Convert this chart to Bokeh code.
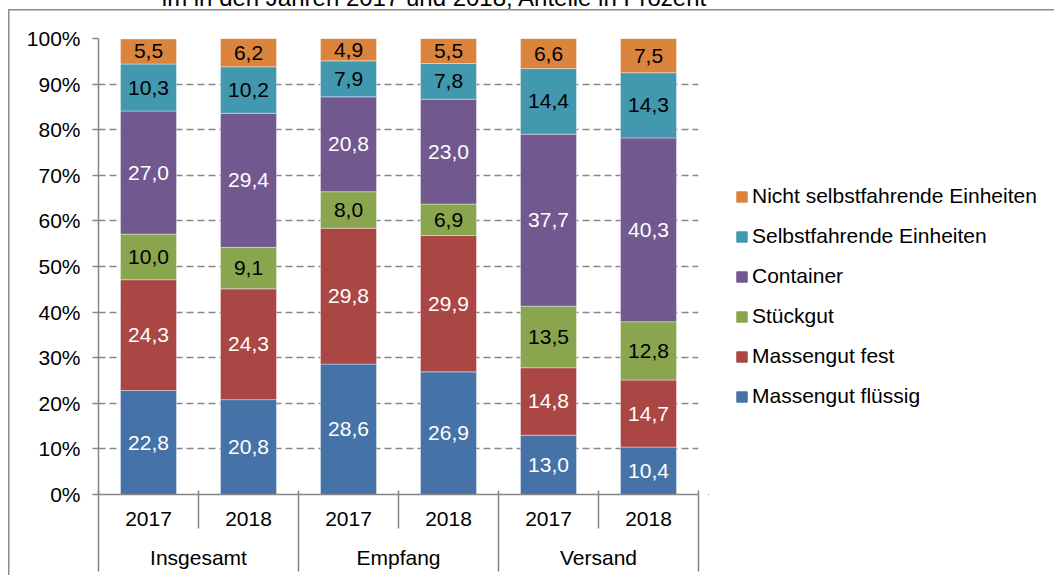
from bokeh.plotting import figure
from bokeh.layouts import column, row
from bokeh.models import (FactorRange, Range1d, LinearAxis, FixedTicker, SingleIntervalTicker,
                          PrintfTickFormatter, Legend, LegendItem, ColumnDataSource, Div)
from bokeh.core.properties import value
from bokeh.embed import file_html
from bokeh.resources import INLINE

# ---------------- data ----------------
title_text = "im in den Jahren 2017 und 2018, Anteile in Prozent"
groups = ["Insgesamt", "Empfang", "Versand"]
years = ["2017", "2018"]
series = ["Massengut flüssig", "Massengut fest", "Stückgut", "Container",
          "Selbstfahrende Einheiten", "Nicht selbstfahrende Einheiten"]
massengut_fluessig = [22.8, 20.8, 28.6, 26.9, 13.0, 10.4]
massengut_fest = [24.3, 24.3, 29.8, 29.9, 14.8, 14.7]
stueckgut = [10.0, 9.1, 8.0, 6.9, 13.5, 12.8]
container = [27.0, 29.4, 20.8, 23.0, 37.7, 40.3]
selbstfahrend = [10.3, 10.2, 7.9, 7.8, 14.4, 14.3]
nicht_selbstfahrend = [5.5, 6.2, 4.9, 5.5, 6.6, 7.5]

colors = ["#4572A7", "#AA4643", "#89A54E", "#71588F", "#4198AF", "#DB843D"]
label_colors = ["#FFFFFF", "#FFFFFF", "#000000", "#FFFFFF", "#000000", "#000000"]

FONT = "Liberation Sans"
FS = "21px"
GRAY = "#868686"
FRAME = "#8c8c8c"

values = [massengut_fluessig, massengut_fest, stueckgut, container,
          selbstfahrend, nicht_selbstfahrend]
keys = ["s%d" % i for i in range(len(series))]
factors = [(g, y) for g in groups for y in years]

data = {"x": factors}
bottom = [0.0] * len(factors)
for k, vals in zip(keys, values):
    data[k] = vals
    data[k + "_mid"] = [b + v / 2 for b, v in zip(bottom, vals)]
    data[k + "_lab"] = [("%.1f" % v).replace(".", ",") for v in vals]
    bottom = [b + v for b, v in zip(bottom, vals)]
source = ColumnDataSource(data)

# ---------------- cut-off title strip ----------------
title_html = ('<div style="position:relative; top:-14px; width:868px; text-align:center; '
              'font-family:\'Liberation Sans\'; font-size:24px; line-height:24px; '
              'white-space:nowrap; color:#000000;">%s</div>' % title_text)
pt = Div(text=title_html, width=1054, height=9, margin=0,
         styles={"overflow": "hidden"})

# ---------------- main chart ----------------
x_range = FactorRange(*factors, factor_padding=0, group_padding=0,
                      subgroup_padding=0, range_padding=0)
p = figure(x_range=x_range, y_range=Range1d(0, 100), width=708, height=566,
           output_backend="svg", toolbar_location=None, x_axis_location=None,
           min_border_left=98, min_border_right=10, min_border_top=29,
           min_border_bottom=81)
p.border_fill_color = None
p.outline_line_color = None
p.styles = {"background":
            "linear-gradient(%s,%s) 8px 0px / 1.5px 100%% no-repeat, "
            "linear-gradient(%s,%s) 8px 0px / 100%% 1.5px no-repeat" % (FRAME, FRAME, FRAME, FRAME)}

renderers = p.vbar_stack(keys, x="x", width=0.56, color=colors, source=source,
                         line_color="white", line_alpha=0.5, line_width=0.75)

for k, c in zip(keys, label_colors):
    p.text(x="x", y=k + "_mid", text=k + "_lab", source=source,
           text_align="center", text_baseline="middle",
           text_font=value(FONT), text_font_size=FS, text_color=c)

# y axis
yax = p.yaxis[0]
yax.ticker = SingleIntervalTicker(interval=10)
yax.formatter = PrintfTickFormatter(format="%d%%")
yax.major_label_text_font = FONT
yax.major_label_text_font_size = FS
yax.major_label_text_color = "#000000"
yax.major_tick_out = 6
yax.major_tick_in = 0
yax.minor_tick_line_color = None
yax.major_tick_line_color = GRAY
yax.major_tick_line_width = 1.5
yax.axis_line_color = GRAY
yax.axis_line_width = 1.5
yax.major_label_standoff = 12

p.ygrid.grid_line_color = GRAY
p.ygrid.grid_line_dash = "7 4"
p.ygrid.grid_line_width = 1.5
p.xgrid.grid_line_color = None

def style_labels(ax):
    ax.major_label_text_font = FONT
    ax.major_label_text_font_size = FS
    ax.major_label_text_color = "#000000"

# x axis: years (positions in the factor range's synthetic coordinates)
n_y = len(years)
leaf_centers = [i + 0.5 for i in range(len(factors))]
yr_ax = LinearAxis(ticker=FixedTicker(ticks=leaf_centers, minor_ticks=[]),
                   major_label_overrides={c: f[1] for c, f in zip(leaf_centers, factors)})
yr_ax.major_tick_out = 0
yr_ax.major_tick_in = 0
yr_ax.major_label_standoff = 17
yr_ax.axis_line_color = GRAY
yr_ax.axis_line_width = 1.5
style_labels(yr_ax)
p.add_layout(yr_ax, "below")

# x axis: groups, with separators
centers = [n_y * i + n_y // 2 for i in range(len(groups))]
bounds = [n_y * i for i in range(len(groups) + 1)]
gax = LinearAxis(ticker=FixedTicker(ticks=centers, minor_ticks=bounds),
                 major_label_overrides={c: g for c, g in zip(centers, groups)})
gax.axis_line_color = None
gax.major_tick_in = 38
gax.major_tick_out = 0
gax.minor_tick_in = 38
gax.minor_tick_out = 43
gax.major_tick_line_color = GRAY
gax.minor_tick_line_color = GRAY
gax.major_tick_line_width = 1.5
gax.minor_tick_line_width = 1.5
gax.major_label_standoff = -26
style_labels(gax)
p.add_layout(gax, "below")

# ---------------- legend panel ----------------
p2 = figure(width=346, height=566, x_range=Range1d(0, 346), y_range=Range1d(0, 566),
            output_backend="svg", toolbar_location=None, min_border=0,
            x_axis_location=None, y_axis_location=None)
p2.grid.visible = False
p2.outline_line_color = None
p2.border_fill_color = None
p2.background_fill_color = None
p2.styles = {"background": "linear-gradient(%s,%s) 0px 0px / 100%% 1.5px no-repeat" % (FRAME, FRAME)}

# legend swatch renderers (their placeholder bar lies far outside the visible range)
swatch_src = ColumnDataSource({"x": [-1000], "top": [-1000], "bottom": [-2000]})
swatches = [p2.vbar(x="x", top="top", bottom="bottom", width=1, color=c,
                    source=swatch_src) for c in colors]
items = [LegendItem(label=s, renderers=[r]) for s, r in zip(series, swatches)][::-1]
legend = Legend(items=items, location=(27, 86), glyph_width=13, glyph_height=13,
                label_standoff=4, spacing=16, padding=0, margin=0,
                border_line_color=None, background_fill_alpha=0,
                label_text_font=FONT, label_text_font_size=FS,
                label_text_color="#000000")
p2.add_layout(legend)

layout = column(pt, row(p, p2, spacing=0), spacing=0)
open("out.html", "w").write(file_html(layout, INLINE))
